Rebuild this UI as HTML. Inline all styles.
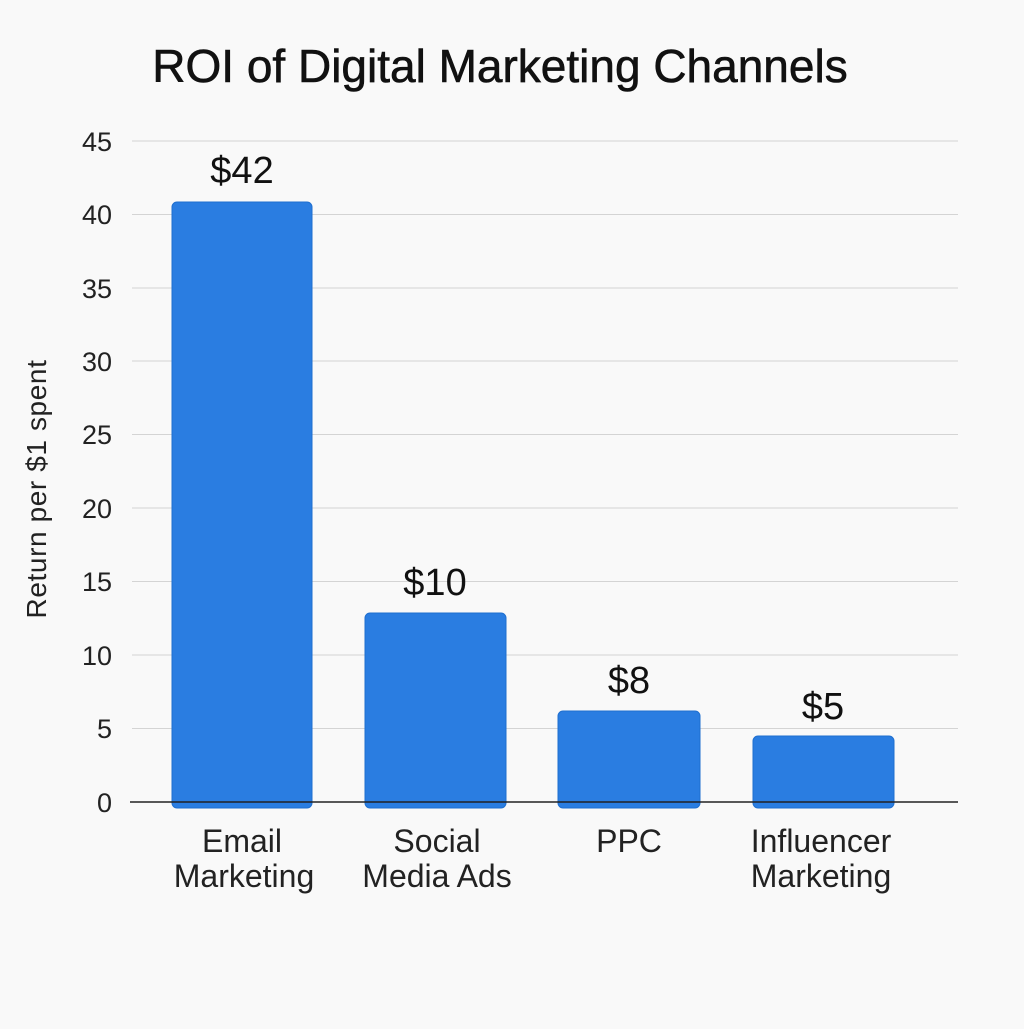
<!DOCTYPE html>
<html><head><meta charset="utf-8"><style>
html,body{margin:0;padding:0;background:#f9f9f9;}
</style></head><body>
<svg width="1024" height="1024" viewBox="0 0 1024 1024" xmlns="http://www.w3.org/2000/svg" font-family="Liberation Sans, sans-serif">
<rect width="1024" height="1024" fill="#f9f9f9"/>
<text x="500" y="82" font-size="46" text-anchor="middle" fill="#111" stroke="#111" stroke-width="0.6">ROI of Digital Marketing Channels</text>
<g stroke="#d4d4d4" stroke-width="1">
<line x1="132" x2="958" y1="141" y2="141"/>
<line x1="132" x2="958" y1="214.5" y2="214.5"/>
<line x1="132" x2="958" y1="288" y2="288"/>
<line x1="132" x2="958" y1="361" y2="361"/>
<line x1="132" x2="958" y1="434.5" y2="434.5"/>
<line x1="132" x2="958" y1="508" y2="508"/>
<line x1="132" x2="958" y1="581.5" y2="581.5"/>
<line x1="132" x2="958" y1="655" y2="655"/>
<line x1="132" x2="958" y1="728.5" y2="728.5"/>
</g>
<g font-size="27" fill="#222" text-anchor="end">
<text x="112" y="151">45</text><text x="112" y="224">40</text><text x="112" y="298">35</text>
<text x="112" y="371">30</text><text x="112" y="444">25</text><text x="112" y="518">20</text>
<text x="112" y="591">15</text><text x="112" y="665">10</text><text x="112" y="738">5</text>
<text x="112" y="812">0</text>
</g>
<text transform="translate(46,489) rotate(-90)" font-size="28" letter-spacing="0.6" text-anchor="middle" fill="#222">Return per $1 spent</text>
<g fill="#2a7de1" stroke="#1f6fd0" stroke-width="1">
<rect x="172" y="202" width="140" height="606" rx="5"/>
<rect x="365" y="613" width="141" height="195" rx="5"/>
<rect x="558" y="711" width="142" height="97" rx="5"/>
<rect x="753" y="736" width="141" height="72" rx="5"/>
</g>
<line x1="130" x2="958" y1="802" y2="802" stroke="#222" stroke-width="1.5"/>
<g font-size="38" fill="#111" text-anchor="middle">
<text x="242" y="183">$42</text>
<text x="435" y="595">$10</text>
<text x="629" y="693">$8</text>
<text x="823" y="719">$5</text>
</g>
<g font-size="32" fill="#222" text-anchor="middle">
<text x="242" y="852">Email</text><text x="244" y="887">Marketing</text>
<text x="437" y="852">Social</text><text x="437" y="887">Media Ads</text>
<text x="629" y="852">PPC</text>
<text x="821" y="852">Influencer</text><text x="821" y="887">Marketing</text>
</g>
</svg>
</body></html>
